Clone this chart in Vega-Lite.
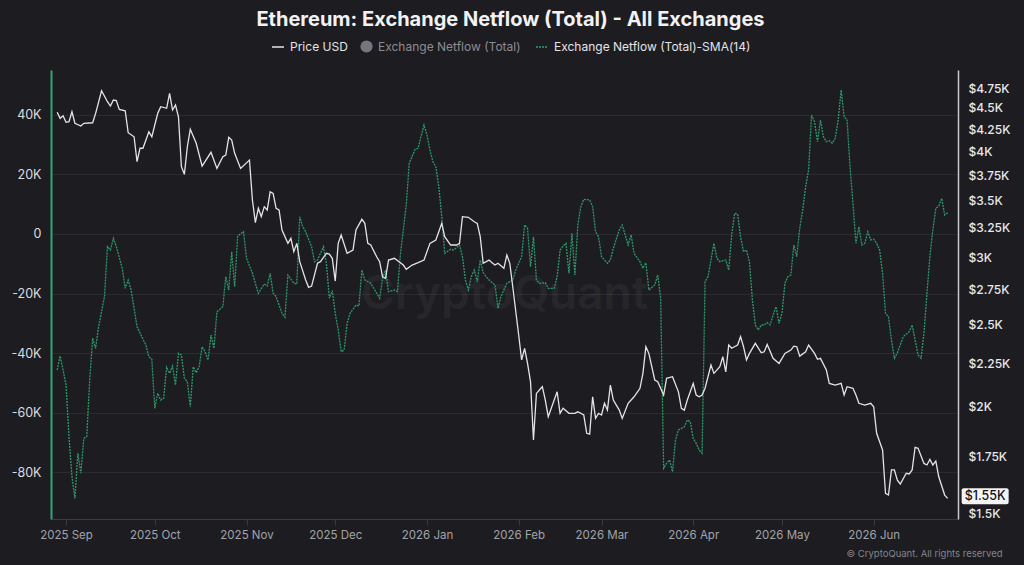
{
  "$schema": "https://vega.github.io/schema/vega-lite/v6.json",
  "width": 1024,
  "height": 565,
  "autosize": {"type": "fit", "contains": "padding"},
  "padding": {"left": 10, "top": 10, "right": 14, "bottom": 7},
  "background": "#1c1c21",
  "config": {"view": {"stroke": null}, "font": "Inter"},
  "title": {
    "text": "Ethereum: Exchange Netflow (Total) - All Exchanges",
    "anchor": "middle",
    "frame": "group",
    "dx": 6,
    "fontSize": 20,
    "fontWeight": 700,
    "color": "#f2f2f4",
    "font": "Inter",
    "baseline": "alphabetic",
    "offset": 24
  },
  "datasets": {
    "price": [
      {"date": "2025-08-29", "price": 4447}, {"date": "2025-08-30", "price": 4375}, {"date": "2025-08-31", "price": 4406},
      {"date": "2025-09-01", "price": 4328}, {"date": "2025-09-02", "price": 4335}, {"date": "2025-09-03", "price": 4454},
      {"date": "2025-09-04", "price": 4317}, {"date": "2025-09-06", "price": 4285}, {"date": "2025-09-07", "price": 4317},
      {"date": "2025-09-10", "price": 4323}, {"date": "2025-09-11", "price": 4435}, {"date": "2025-09-13", "price": 4715},
      {"date": "2025-09-15", "price": 4577}, {"date": "2025-09-16", "price": 4524}, {"date": "2025-09-17", "price": 4598},
      {"date": "2025-09-18", "price": 4590}, {"date": "2025-09-19", "price": 4483}, {"date": "2025-09-21", "price": 4466},
      {"date": "2025-09-22", "price": 4208}, {"date": "2025-09-24", "price": 4162}, {"date": "2025-09-25", "price": 3890},
      {"date": "2025-09-26", "price": 4034}, {"date": "2025-09-27", "price": 4034}, {"date": "2025-09-29", "price": 4219},
      {"date": "2025-09-30", "price": 4162}, {"date": "2025-10-02", "price": 4435}, {"date": "2025-10-03", "price": 4515},
      {"date": "2025-10-05", "price": 4496}, {"date": "2025-10-06", "price": 4682}, {"date": "2025-10-07", "price": 4475},
      {"date": "2025-10-08", "price": 4536}, {"date": "2025-10-09", "price": 4394}, {"date": "2025-10-10", "price": 3837},
      {"date": "2025-10-11", "price": 3759}, {"date": "2025-10-12", "price": 4051}, {"date": "2025-10-13", "price": 4247},
      {"date": "2025-10-15", "price": 4089}, {"date": "2025-10-17", "price": 3844}, {"date": "2025-10-20", "price": 3990},
      {"date": "2025-10-22", "price": 3820}, {"date": "2025-10-24", "price": 3943}, {"date": "2025-10-25", "price": 3961},
      {"date": "2025-10-26", "price": 4156}, {"date": "2025-10-27", "price": 4125}, {"date": "2025-10-28", "price": 3979},
      {"date": "2025-10-30", "price": 3820}, {"date": "2025-11-02", "price": 3907}, {"date": "2025-11-03", "price": 3506},
      {"date": "2025-11-04", "price": 3297}, {"date": "2025-11-05", "price": 3428}, {"date": "2025-11-06", "price": 3351},
      {"date": "2025-11-07", "price": 3443}, {"date": "2025-11-08", "price": 3412}, {"date": "2025-11-09", "price": 3585},
      {"date": "2025-11-10", "price": 3570}, {"date": "2025-11-11", "price": 3428}, {"date": "2025-11-12", "price": 3412},
      {"date": "2025-11-13", "price": 3232}, {"date": "2025-11-15", "price": 3117}, {"date": "2025-11-16", "price": 3160},
      {"date": "2025-11-17", "price": 3047}, {"date": "2025-11-18", "price": 3117}, {"date": "2025-11-19", "price": 2966},
      {"date": "2025-11-21", "price": 2822}, {"date": "2025-11-22", "price": 2767}, {"date": "2025-11-23", "price": 2776},
      {"date": "2025-11-25", "price": 2953}, {"date": "2025-11-26", "price": 2966}, {"date": "2025-11-28", "price": 3034},
      {"date": "2025-11-29", "price": 3028}, {"date": "2025-11-30", "price": 2993}, {"date": "2025-12-01", "price": 2814},
      {"date": "2025-12-02", "price": 3117}, {"date": "2025-12-03", "price": 3188}, {"date": "2025-12-05", "price": 3034},
      {"date": "2025-12-07", "price": 3061}, {"date": "2025-12-08", "price": 3232}, {"date": "2025-12-10", "price": 3327},
      {"date": "2025-12-11", "price": 3291}, {"date": "2025-12-12", "price": 3117}, {"date": "2025-12-13", "price": 3103},
      {"date": "2025-12-15", "price": 3006}, {"date": "2025-12-16", "price": 2966}, {"date": "2025-12-17", "price": 2847},
      {"date": "2025-12-18", "price": 2835}, {"date": "2025-12-19", "price": 2979}, {"date": "2025-12-21", "price": 2993},
      {"date": "2025-12-24", "price": 2939}, {"date": "2025-12-25", "price": 2905}, {"date": "2025-12-27", "price": 2939},
      {"date": "2025-12-29", "price": 2958}, {"date": "2025-12-31", "price": 2979}, {"date": "2026-01-02", "price": 3117},
      {"date": "2026-01-04", "price": 3145}, {"date": "2026-01-06", "price": 3291}, {"date": "2026-01-07", "price": 3174},
      {"date": "2026-01-09", "price": 3103}, {"date": "2026-01-11", "price": 3103}, {"date": "2026-01-12", "price": 3117},
      {"date": "2026-01-13", "price": 3351}, {"date": "2026-01-15", "price": 3345}, {"date": "2026-01-17", "price": 3305},
      {"date": "2026-01-18", "price": 3291}, {"date": "2026-01-19", "price": 3174}, {"date": "2026-01-20", "price": 2953},
      {"date": "2026-01-22", "price": 2979}, {"date": "2026-01-23", "price": 2958}, {"date": "2026-01-24", "price": 2939},
      {"date": "2026-01-25", "price": 2953}, {"date": "2026-01-27", "price": 2913}, {"date": "2026-01-28", "price": 3020},
      {"date": "2026-01-29", "price": 2953}, {"date": "2026-01-30", "price": 2771}, {"date": "2026-02-01", "price": 2431},
      {"date": "2026-02-02", "price": 2272}, {"date": "2026-02-03", "price": 2345}, {"date": "2026-02-04", "price": 2251},
      {"date": "2026-02-05", "price": 2142}, {"date": "2026-02-06", "price": 1829}, {"date": "2026-02-07", "price": 2075},
      {"date": "2026-02-08", "price": 2094}, {"date": "2026-02-09", "price": 2113}, {"date": "2026-02-10", "price": 2038},
      {"date": "2026-02-11", "price": 1948}, {"date": "2026-02-13", "price": 2038}, {"date": "2026-02-14", "price": 2084},
      {"date": "2026-02-15", "price": 1966}, {"date": "2026-02-16", "price": 1993}, {"date": "2026-02-18", "price": 1966},
      {"date": "2026-02-20", "price": 1966}, {"date": "2026-02-21", "price": 1974}, {"date": "2026-02-23", "price": 1957},
      {"date": "2026-02-24", "price": 1862}, {"date": "2026-02-25", "price": 1858}, {"date": "2026-02-26", "price": 2056},
      {"date": "2026-02-27", "price": 1939}, {"date": "2026-02-28", "price": 1966}, {"date": "2026-03-01", "price": 1957},
      {"date": "2026-03-02", "price": 2020}, {"date": "2026-03-03", "price": 1983}, {"date": "2026-03-04", "price": 2122},
      {"date": "2026-03-05", "price": 2038}, {"date": "2026-03-07", "price": 1983}, {"date": "2026-03-08", "price": 1939},
      {"date": "2026-03-10", "price": 2020}, {"date": "2026-03-12", "price": 2056}, {"date": "2026-03-14", "price": 2104},
      {"date": "2026-03-15", "price": 2191}, {"date": "2026-03-16", "price": 2355}, {"date": "2026-03-17", "price": 2313},
      {"date": "2026-03-19", "price": 2152}, {"date": "2026-03-20", "price": 2142}, {"date": "2026-03-22", "price": 2066},
      {"date": "2026-03-23", "price": 2162}, {"date": "2026-03-25", "price": 2171}, {"date": "2026-03-27", "price": 2084},
      {"date": "2026-03-28", "price": 1993}, {"date": "2026-03-29", "price": 1983}, {"date": "2026-03-30", "price": 2038},
      {"date": "2026-04-01", "price": 2132}, {"date": "2026-04-02", "price": 2066}, {"date": "2026-04-03", "price": 2056},
      {"date": "2026-04-04", "price": 2066}, {"date": "2026-04-05", "price": 2104}, {"date": "2026-04-07", "price": 2241},
      {"date": "2026-04-08", "price": 2191}, {"date": "2026-04-10", "price": 2231}, {"date": "2026-04-11", "price": 2292},
      {"date": "2026-04-12", "price": 2200}, {"date": "2026-04-13", "price": 2366}, {"date": "2026-04-14", "price": 2345},
      {"date": "2026-04-16", "price": 2366}, {"date": "2026-04-17", "price": 2420}, {"date": "2026-04-18", "price": 2355},
      {"date": "2026-04-19", "price": 2272}, {"date": "2026-04-20", "price": 2313}, {"date": "2026-04-22", "price": 2377},
      {"date": "2026-04-24", "price": 2317}, {"date": "2026-04-25", "price": 2323}, {"date": "2026-04-26", "price": 2370},
      {"date": "2026-04-28", "price": 2282}, {"date": "2026-04-30", "price": 2251}, {"date": "2026-05-02", "price": 2313},
      {"date": "2026-05-04", "price": 2334}, {"date": "2026-05-05", "price": 2359}, {"date": "2026-05-06", "price": 2355},
      {"date": "2026-05-07", "price": 2296}, {"date": "2026-05-09", "price": 2323}, {"date": "2026-05-10", "price": 2366},
      {"date": "2026-05-12", "price": 2313}, {"date": "2026-05-13", "price": 2276}, {"date": "2026-05-14", "price": 2282},
      {"date": "2026-05-16", "price": 2211}, {"date": "2026-05-17", "price": 2132}, {"date": "2026-05-19", "price": 2122},
      {"date": "2026-05-21", "price": 2132}, {"date": "2026-05-22", "price": 2066}, {"date": "2026-05-23", "price": 2113},
      {"date": "2026-05-25", "price": 2104}, {"date": "2026-05-26", "price": 2066}, {"date": "2026-05-27", "price": 2020},
      {"date": "2026-05-29", "price": 2010}, {"date": "2026-05-31", "price": 2020}, {"date": "2026-06-01", "price": 2001},
      {"date": "2026-06-02", "price": 1862}, {"date": "2026-06-04", "price": 1780}, {"date": "2026-06-05", "price": 1582},
      {"date": "2026-06-06", "price": 1575}, {"date": "2026-06-07", "price": 1686}, {"date": "2026-06-08", "price": 1686},
      {"date": "2026-06-09", "price": 1640}, {"date": "2026-06-10", "price": 1623}, {"date": "2026-06-12", "price": 1671},
      {"date": "2026-06-13", "price": 1668}, {"date": "2026-06-14", "price": 1686}, {"date": "2026-06-15", "price": 1793},
      {"date": "2026-06-16", "price": 1788}, {"date": "2026-06-18", "price": 1716}, {"date": "2026-06-19", "price": 1709},
      {"date": "2026-06-20", "price": 1735}, {"date": "2026-06-21", "price": 1709}, {"date": "2026-06-22", "price": 1727},
      {"date": "2026-06-23", "price": 1655}, {"date": "2026-06-25", "price": 1575}, {"date": "2026-06-26", "price": 1561}
    ],
    "sma": [
      {"date": "2025-08-29", "netflow_sma": -45710}, {"date": "2025-08-30", "netflow_sma": -41004}, {"date": "2025-08-31", "netflow_sma": -45710},
      {"date": "2025-09-01", "netflow_sma": -50751}, {"date": "2025-09-02", "netflow_sma": -68128}, {"date": "2025-09-03", "netflow_sma": -81572},
      {"date": "2025-09-04", "netflow_sma": -88831}, {"date": "2025-09-05", "netflow_sma": -73707}, {"date": "2025-09-06", "netflow_sma": -80429},
      {"date": "2025-09-07", "netflow_sma": -68665}, {"date": "2025-09-08", "netflow_sma": -68128}, {"date": "2025-09-09", "netflow_sma": -49071},
      {"date": "2025-09-10", "netflow_sma": -35055}, {"date": "2025-09-11", "netflow_sma": -38416}, {"date": "2025-09-12", "netflow_sma": -31156},
      {"date": "2025-09-14", "netflow_sma": -21073}, {"date": "2025-09-15", "netflow_sma": -4268}, {"date": "2025-09-16", "netflow_sma": -5378},
      {"date": "2025-09-17", "netflow_sma": -1445}, {"date": "2025-09-18", "netflow_sma": -4268}, {"date": "2025-09-20", "netflow_sma": -11528},
      {"date": "2025-09-21", "netflow_sma": -18250}, {"date": "2025-09-22", "netflow_sma": -15461}, {"date": "2025-09-23", "netflow_sma": -18822},
      {"date": "2025-09-25", "netflow_sma": -31156}, {"date": "2025-09-27", "netflow_sma": -35391}, {"date": "2025-09-28", "netflow_sma": -37307},
      {"date": "2025-09-29", "netflow_sma": -41239}, {"date": "2025-09-30", "netflow_sma": -42113}, {"date": "2025-10-01", "netflow_sma": -58582},
      {"date": "2025-10-02", "netflow_sma": -53541}, {"date": "2025-10-03", "netflow_sma": -55793}, {"date": "2025-10-04", "netflow_sma": -55221},
      {"date": "2025-10-05", "netflow_sma": -44802}, {"date": "2025-10-06", "netflow_sma": -46819}, {"date": "2025-10-07", "netflow_sma": -44365},
      {"date": "2025-10-08", "netflow_sma": -50751}, {"date": "2025-10-09", "netflow_sma": -40097}, {"date": "2025-10-10", "netflow_sma": -40668},
      {"date": "2025-10-11", "netflow_sma": -48499}, {"date": "2025-10-12", "netflow_sma": -49642}, {"date": "2025-10-13", "netflow_sma": -58044},
      {"date": "2025-10-14", "netflow_sma": -44600}, {"date": "2025-10-15", "netflow_sma": -46617}, {"date": "2025-10-16", "netflow_sma": -44600},
      {"date": "2025-10-17", "netflow_sma": -37878}, {"date": "2025-10-18", "netflow_sma": -39559}, {"date": "2025-10-19", "netflow_sma": -42349},
      {"date": "2025-10-20", "netflow_sma": -33946}, {"date": "2025-10-21", "netflow_sma": -38416}, {"date": "2025-10-22", "netflow_sma": -26115},
      {"date": "2025-10-23", "netflow_sma": -25308}, {"date": "2025-10-24", "netflow_sma": -24434}, {"date": "2025-10-25", "netflow_sma": -14351},
      {"date": "2025-10-26", "netflow_sma": -18822}, {"date": "2025-10-27", "netflow_sma": -5949}, {"date": "2025-10-28", "netflow_sma": -17712},
      {"date": "2025-10-29", "netflow_sma": -672}, {"date": "2025-10-31", "netflow_sma": 773}, {"date": "2025-11-01", "netflow_sma": -8167},
      {"date": "2025-11-03", "netflow_sma": -13209}, {"date": "2025-11-05", "netflow_sma": -19931}, {"date": "2025-11-07", "netflow_sma": -16805},
      {"date": "2025-11-08", "netflow_sma": -17477}, {"date": "2025-11-09", "netflow_sma": -13209}, {"date": "2025-11-10", "netflow_sma": -19931},
      {"date": "2025-11-11", "netflow_sma": -21073}, {"date": "2025-11-13", "netflow_sma": -26653}, {"date": "2025-11-14", "netflow_sma": -27997},
      {"date": "2025-11-15", "netflow_sma": -13780}, {"date": "2025-11-17", "netflow_sma": -16570}, {"date": "2025-11-18", "netflow_sma": -16805},
      {"date": "2025-11-19", "netflow_sma": 5815}, {"date": "2025-11-20", "netflow_sma": 2454}, {"date": "2025-11-21", "netflow_sma": 773},
      {"date": "2025-11-23", "netflow_sma": -4268}, {"date": "2025-11-24", "netflow_sma": -9310}, {"date": "2025-11-25", "netflow_sma": -8739},
      {"date": "2025-11-27", "netflow_sma": -4268}, {"date": "2025-11-28", "netflow_sma": -9848}, {"date": "2025-11-29", "netflow_sma": -21611},
      {"date": "2025-11-30", "netflow_sma": -19057}, {"date": "2025-12-01", "netflow_sma": -26653}, {"date": "2025-12-02", "netflow_sma": -32266},
      {"date": "2025-12-03", "netflow_sma": -39559}, {"date": "2025-12-04", "netflow_sma": -38988}, {"date": "2025-12-05", "netflow_sma": -30014},
      {"date": "2025-12-06", "netflow_sma": -26653}, {"date": "2025-12-08", "netflow_sma": -23863}, {"date": "2025-12-09", "netflow_sma": -24199},
      {"date": "2025-12-10", "netflow_sma": -12100}, {"date": "2025-12-11", "netflow_sma": -15461}, {"date": "2025-12-13", "netflow_sma": -16570},
      {"date": "2025-12-15", "netflow_sma": -19931}, {"date": "2025-12-16", "netflow_sma": -21611}, {"date": "2025-12-17", "netflow_sma": -14889},
      {"date": "2025-12-18", "netflow_sma": -12100}, {"date": "2025-12-19", "netflow_sma": -19393}, {"date": "2025-12-21", "netflow_sma": -18822},
      {"date": "2025-12-22", "netflow_sma": -19393}, {"date": "2025-12-23", "netflow_sma": -7058}, {"date": "2025-12-24", "netflow_sma": 1344},
      {"date": "2025-12-25", "netflow_sma": 9747}, {"date": "2025-12-26", "netflow_sma": 23762}, {"date": "2025-12-28", "netflow_sma": 28468},
      {"date": "2025-12-29", "netflow_sma": 28804}, {"date": "2025-12-31", "netflow_sma": 36635}, {"date": "2026-01-01", "netflow_sma": 33274},
      {"date": "2026-01-02", "netflow_sma": 28232}, {"date": "2026-01-03", "netflow_sma": 24300}, {"date": "2026-01-04", "netflow_sma": 22620},
      {"date": "2026-01-05", "netflow_sma": 15898}, {"date": "2026-01-06", "netflow_sma": 5815}, {"date": "2026-01-07", "netflow_sma": -6487},
      {"date": "2026-01-09", "netflow_sma": -5142}, {"date": "2026-01-10", "netflow_sma": -5378}, {"date": "2026-01-12", "netflow_sma": -3697},
      {"date": "2026-01-13", "netflow_sma": -7629}, {"date": "2026-01-14", "netflow_sma": -15461}, {"date": "2026-01-15", "netflow_sma": -18822},
      {"date": "2026-01-16", "netflow_sma": -14351}, {"date": "2026-01-17", "netflow_sma": -12100}, {"date": "2026-01-18", "netflow_sma": -16032},
      {"date": "2026-01-19", "netflow_sma": -8739}, {"date": "2026-01-20", "netflow_sma": -13007}, {"date": "2026-01-21", "netflow_sma": -14351},
      {"date": "2026-01-22", "netflow_sma": -15461}, {"date": "2026-01-24", "netflow_sma": -17141}, {"date": "2026-01-25", "netflow_sma": -24972},
      {"date": "2026-01-26", "netflow_sma": -21073}, {"date": "2026-01-28", "netflow_sma": -16570}, {"date": "2026-01-30", "netflow_sma": -15461},
      {"date": "2026-01-31", "netflow_sma": -12100}, {"date": "2026-02-02", "netflow_sma": -7629}, {"date": "2026-02-03", "netflow_sma": 3025},
      {"date": "2026-02-04", "netflow_sma": 1916}, {"date": "2026-02-05", "netflow_sma": -10990}, {"date": "2026-02-06", "netflow_sma": -907},
      {"date": "2026-02-07", "netflow_sma": -15461}, {"date": "2026-02-08", "netflow_sma": -16570}, {"date": "2026-02-10", "netflow_sma": -16368},
      {"date": "2026-02-11", "netflow_sma": -18250}, {"date": "2026-02-13", "netflow_sma": -18250}, {"date": "2026-02-14", "netflow_sma": -14351},
      {"date": "2026-02-15", "netflow_sma": -5378}, {"date": "2026-02-16", "netflow_sma": -4033}, {"date": "2026-02-17", "netflow_sma": -3126},
      {"date": "2026-02-18", "netflow_sma": -13209}, {"date": "2026-02-19", "netflow_sma": 235}, {"date": "2026-02-20", "netflow_sma": -13780},
      {"date": "2026-02-21", "netflow_sma": 3025}, {"date": "2026-02-22", "netflow_sma": 9176}, {"date": "2026-02-23", "netflow_sma": 11663},
      {"date": "2026-02-25", "netflow_sma": 11427}, {"date": "2026-02-26", "netflow_sma": 9176}, {"date": "2026-02-27", "netflow_sma": 773},
      {"date": "2026-02-28", "netflow_sma": -907}, {"date": "2026-03-01", "netflow_sma": -7629}, {"date": "2026-03-03", "netflow_sma": -9848},
      {"date": "2026-03-04", "netflow_sma": -8739}, {"date": "2026-03-05", "netflow_sma": -4806}, {"date": "2026-03-07", "netflow_sma": 1344},
      {"date": "2026-03-08", "netflow_sma": 3025}, {"date": "2026-03-09", "netflow_sma": -336}, {"date": "2026-03-10", "netflow_sma": -3697},
      {"date": "2026-03-11", "netflow_sma": -336}, {"date": "2026-03-12", "netflow_sma": -6487}, {"date": "2026-03-14", "netflow_sma": -9310},
      {"date": "2026-03-15", "netflow_sma": -11528}, {"date": "2026-03-16", "netflow_sma": -9646}, {"date": "2026-03-17", "netflow_sma": -18822},
      {"date": "2026-03-19", "netflow_sma": -17141}, {"date": "2026-03-20", "netflow_sma": -13780}, {"date": "2026-03-21", "netflow_sma": -21611},
      {"date": "2026-03-22", "netflow_sma": -78748}, {"date": "2026-03-23", "netflow_sma": -77068}, {"date": "2026-03-24", "netflow_sma": -75959},
      {"date": "2026-03-25", "netflow_sma": -79891}, {"date": "2026-03-26", "netflow_sma": -69237}, {"date": "2026-03-27", "netflow_sma": -65876},
      {"date": "2026-03-29", "netflow_sma": -64766}, {"date": "2026-03-30", "netflow_sma": -62515}, {"date": "2026-03-31", "netflow_sma": -63086},
      {"date": "2026-04-01", "netflow_sma": -68665}, {"date": "2026-04-02", "netflow_sma": -70346}, {"date": "2026-04-03", "netflow_sma": -72598},
      {"date": "2026-04-04", "netflow_sma": -73707}, {"date": "2026-04-05", "netflow_sma": -16032}, {"date": "2026-04-06", "netflow_sma": -14351},
      {"date": "2026-04-07", "netflow_sma": -8739}, {"date": "2026-04-08", "netflow_sma": -3126}, {"date": "2026-04-09", "netflow_sma": -8167},
      {"date": "2026-04-10", "netflow_sma": -9310}, {"date": "2026-04-12", "netflow_sma": -8739}, {"date": "2026-04-13", "netflow_sma": -12100},
      {"date": "2026-04-14", "netflow_sma": -336}, {"date": "2026-04-15", "netflow_sma": 6957}, {"date": "2026-04-16", "netflow_sma": 6722},
      {"date": "2026-04-17", "netflow_sma": -907}, {"date": "2026-04-18", "netflow_sma": -5949}, {"date": "2026-04-19", "netflow_sma": -5378},
      {"date": "2026-04-20", "netflow_sma": -9310}, {"date": "2026-04-21", "netflow_sma": -22183}, {"date": "2026-04-22", "netflow_sma": -30585},
      {"date": "2026-04-23", "netflow_sma": -32266}, {"date": "2026-04-24", "netflow_sma": -30585}, {"date": "2026-04-25", "netflow_sma": -30585},
      {"date": "2026-04-26", "netflow_sma": -29812}, {"date": "2026-04-27", "netflow_sma": -30585}, {"date": "2026-04-28", "netflow_sma": -27224},
      {"date": "2026-04-29", "netflow_sma": -24434}, {"date": "2026-04-30", "netflow_sma": -30014}, {"date": "2026-05-01", "netflow_sma": -26653},
      {"date": "2026-05-02", "netflow_sma": -16570}, {"date": "2026-05-03", "netflow_sma": -14351}, {"date": "2026-05-04", "netflow_sma": -13780},
      {"date": "2026-05-05", "netflow_sma": -3697}, {"date": "2026-05-06", "netflow_sma": -7629}, {"date": "2026-05-07", "netflow_sma": 1916},
      {"date": "2026-05-08", "netflow_sma": 8066}, {"date": "2026-05-09", "netflow_sma": 15898}, {"date": "2026-05-10", "netflow_sma": 21510},
      {"date": "2026-05-11", "netflow_sma": 39996}, {"date": "2026-05-12", "netflow_sma": 37744}, {"date": "2026-05-13", "netflow_sma": 31022},
      {"date": "2026-05-14", "netflow_sma": 38315}, {"date": "2026-05-15", "netflow_sma": 32703}, {"date": "2026-05-16", "netflow_sma": 31022},
      {"date": "2026-05-17", "netflow_sma": 31358}, {"date": "2026-05-18", "netflow_sma": 30484}, {"date": "2026-05-19", "netflow_sma": 32165},
      {"date": "2026-05-20", "netflow_sma": 38315}, {"date": "2026-05-21", "netflow_sma": 48398}, {"date": "2026-05-22", "netflow_sma": 39424},
      {"date": "2026-05-23", "netflow_sma": 38315}, {"date": "2026-05-24", "netflow_sma": 22620}, {"date": "2026-05-25", "netflow_sma": 10318},
      {"date": "2026-05-26", "netflow_sma": -3126}, {"date": "2026-05-27", "netflow_sma": 2454}, {"date": "2026-05-28", "netflow_sma": -3697},
      {"date": "2026-05-29", "netflow_sma": -3126}, {"date": "2026-05-30", "netflow_sma": 773}, {"date": "2026-05-31", "netflow_sma": -2017},
      {"date": "2026-06-01", "netflow_sma": -1781}, {"date": "2026-06-02", "netflow_sma": -3126}, {"date": "2026-06-03", "netflow_sma": -5378},
      {"date": "2026-06-04", "netflow_sma": -13209}, {"date": "2026-06-05", "netflow_sma": -26653}, {"date": "2026-06-06", "netflow_sma": -27795},
      {"date": "2026-06-07", "netflow_sma": -35627}, {"date": "2026-06-08", "netflow_sma": -41777}, {"date": "2026-06-09", "netflow_sma": -39895},
      {"date": "2026-06-11", "netflow_sma": -34517}, {"date": "2026-06-13", "netflow_sma": -32837}, {"date": "2026-06-14", "netflow_sma": -30585},
      {"date": "2026-06-15", "netflow_sma": -35627}, {"date": "2026-06-16", "netflow_sma": -40668}, {"date": "2026-06-17", "netflow_sma": -41777},
      {"date": "2026-06-18", "netflow_sma": -33375}, {"date": "2026-06-19", "netflow_sma": -19931}, {"date": "2026-06-20", "netflow_sma": -7629},
      {"date": "2026-06-21", "netflow_sma": 1344}, {"date": "2026-06-22", "netflow_sma": 8638}, {"date": "2026-06-23", "netflow_sma": 9411},
      {"date": "2026-06-24", "netflow_sma": 11999}, {"date": "2026-06-25", "netflow_sma": 6386}, {"date": "2026-06-26", "netflow_sma": 7159}
    ],
    "lastPrice": [{"date": "2026-06-26", "price": 1570, "label": "$1.55K"}],
    "watermark": [{"wm": "CryptoQuant"}]
  },
  "layer": [
    {
      "data": {"name": "watermark"},
      "mark": {"type": "text", "fontSize": 46, "fontWeight": 600, "font": "Inter", "fill": "#ffffff", "opacity": 0.045, "align": "center", "baseline": "middle"},
      "encoding": {"text": {"field": "wm", "type": "nominal"}}
    },
    {
      "data": {"name": "watermark"},
      "transform": [{"filter": "false"}],
      "mark": {"type": "point", "filled": true},
      "encoding": {
        "fill": {
          "datum": "Exchange Netflow (Total)", "type": "nominal",
          "scale": {"domain": ["Exchange Netflow (Total)"], "range": ["#9c9ca4"]},
          "legend": {
            "orient": "none", "legendX": 309, "legendY": -30, "direction": "horizontal", "title": null,
            "symbolType": "circle", "symbolSize": 150, "symbolStrokeWidth": 0,
            "labelFontSize": 12, "labelFont": "Inter", "labelColor": "#8c8c94", "labelOffset": 5, "labelLimit": 400,
            "padding": 0
          }
        }
      }
    },
    {
      "data": {"name": "sma"},
      "mark": {"type": "line", "strokeWidth": 1.3, "strokeDash": [2, 1], "interpolate": "linear"},
      "encoding": {
        "x": {
          "field": "date", "type": "temporal",
          "scale": {"type": "utc", "nice": false, "domain": [{"year": 2025, "month": 8, "date": 26, "hours": 22, "utc": true}, {"year": 2026, "month": 6, "date": 29, "hours": 12, "utc": true}]},
          "axis": {
            "orient": "bottom", "format": "%Y %b", "tickCount": {"interval": "month", "step": 1},
            "grid": false, "domainColor": "#3a3a41", "tickColor": "#3a3a41", "tickSize": 6,
            "labelColor": "#a3a3aa", "labelFontSize": 11.5, "labelPadding": 4, "labelFont": "Inter",
            "labelOverlap": false, "labelFlush": false,
            "title": "© CryptoQuant. All rights reserved", "titleFontSize": 9.5, "titleFontWeight": "normal",
            "titleColor": "#85858c", "titleFont": "Inter", "titleAnchor": "end", "titleAlign": "right",
            "titleX": 951, "titleY": 34, "titleBaseline": "middle"
          }
        },
        "y": {
          "field": "netflow_sma", "type": "quantitative",
          "scale": {"domain": [-95789, 55120], "nice": false, "zero": false},
          "axis": {
            "orient": "left", "values": [-80000, -60000, -40000, -20000, 0, 20000, 40000],
            "labelExpr": "datum.value === 0 ? '0' : (datum.value / 1000) + 'K'",
            "domainColor": "#35a574", "domainWidth": 2, "ticks": false, "tickSize": 0,
            "labelPadding": 10, "labelColor": "#dcdcdf", "labelFontSize": 12.5, "labelFont": "Inter",
            "grid": true, "gridColor": "#2a2a30", "gridWidth": 1, "title": null
          }
        },
        "stroke": {
          "datum": "Exchange Netflow (Total)-SMA(14)", "type": "nominal",
          "scale": {"domain": ["Exchange Netflow (Total)-SMA(14)"], "range": ["#2f9a69"]},
          "legend": {
            "orient": "none", "legendX": 484, "legendY": -30, "direction": "horizontal", "title": null,
            "symbolType": "stroke", "symbolSize": 144, "symbolStrokeWidth": 1.5, "symbolDash": [2, 1],
            "labelFontSize": 12, "labelFont": "Inter", "labelColor": "#e4e4e8", "labelOffset": 5, "labelLimit": 400,
            "padding": 0
          }
        }
      }
    },
    {
      "layer": [
        {
          "data": {"name": "price"},
          "mark": {"type": "line", "strokeWidth": 1.3},
          "encoding": {
            "x": {"field": "date", "type": "temporal", "scale": {"type": "utc", "nice": false, "domain": [{"year": 2025, "month": 8, "date": 26, "hours": 22, "utc": true}, {"year": 2026, "month": 6, "date": 29, "hours": 12, "utc": true}]}},
            "y": {
              "field": "price", "type": "quantitative",
              "scale": {"type": "log", "domain": [1476, 4988], "nice": false},
              "axis": {
                "orient": "right", "values": [1500, 1750, 2000, 2250, 2500, 2750, 3000, 3250, 3500, 3750, 4000, 4250, 4500, 4750],
                "labelExpr": "'$' + format(datum.value / 1000, '~g') + 'K'",
                "domainColor": "#c9c9ce", "domainWidth": 1.5, "ticks": false, "tickSize": 0,
                "labelPadding": 10, "labelColor": "#e8e8ea", "labelFontSize": 12, "labelFontWeight": 500, "labelFont": "Inter",
                "labelOverlap": false, "labelFlush": false, "grid": false, "title": null
              }
            },
            "color": {
              "datum": "Price USD", "type": "nominal",
              "scale": {"domain": ["Price USD"], "range": ["#e4e4e8"]},
              "legend": {
                "orient": "none", "legendX": 220, "legendY": -30, "direction": "horizontal", "title": null,
                "symbolType": "stroke", "symbolSize": 144, "symbolStrokeWidth": 1.5,
                "labelFontSize": 12, "labelFont": "Inter", "labelColor": "#e4e4e8", "labelOffset": 5, "labelLimit": 400,
                "padding": 0
              }
            }
          }
        },
        {
          "data": {"name": "lastPrice"},
          "mark": {"type": "rect", "fill": "#f4f4f5", "cornerRadius": 2, "xOffset": 14, "x2Offset": 61, "yOffset": -8, "y2Offset": 8},
          "encoding": {
            "x": {"field": "date", "type": "temporal"},
            "x2": {"field": "date"},
            "y": {"field": "price", "type": "quantitative", "scale": {"type": "log", "domain": [1476, 4988], "nice": false}},
            "y2": {"field": "price"}
          }
        },
        {
          "data": {"name": "lastPrice"},
          "mark": {"type": "text", "align": "left", "baseline": "middle", "dx": 17, "fontSize": 12.5, "fontWeight": 500, "font": "Inter", "fill": "#121214"},
          "encoding": {
            "x": {"field": "date", "type": "temporal"},
            "y": {"field": "price", "type": "quantitative", "scale": {"type": "log", "domain": [1476, 4988], "nice": false}},
            "text": {"field": "label", "type": "nominal"}
          }
        }
      ]
    }
  ],
  "resolve": {"scale": {"y": "independent"}}
}
